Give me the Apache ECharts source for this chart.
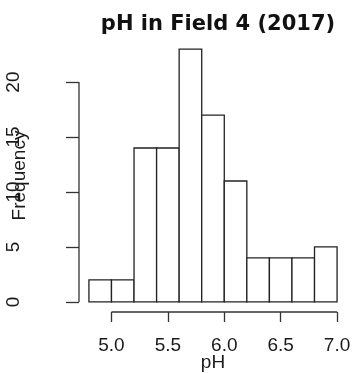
<!DOCTYPE html>
<html>
<head>
<meta charset="utf-8">
<script src="https://cdn.jsdelivr.net/npm/echarts@6/dist/echarts.min.js"></script>
<style>
html,body{margin:0;padding:0;background:#fff;}
#c{width:353px;height:373px;}
</style>
</head>
<body>
<div id="c"></div>
<script>
// Histogram data
var breaks = [4.8, 5.0, 5.2, 5.4, 5.6, 5.8, 6.0, 6.2, 6.4, 6.6, 6.8, 7.0];
var counts = [2, 2, 14, 14, 23, 17, 11, 4, 4, 4, 5];
var xTicks = [5.0, 5.5, 6.0, 6.5, 7.0];
var yTicks = [0, 5, 10, 15, 20];
var titleText = 'pH in Field 4 (2017)';
var xName = 'pH';
var yName = 'Frequency';

// R-style 4% axis expansion
var xLo = breaks[0], xHi = breaks[breaks.length - 1];
var yLo = 0, yHi = Math.max.apply(null, counts);
var xPad = (xHi - xLo) * 0.04, yPad = (yHi - yLo) * 0.04;

var data = counts.map(function (c, i) { return [breaks[i], breaks[i + 1], c]; });

var chart = echarts.init(document.getElementById('c'), null, { renderer: 'canvas' });
var fontFam = '"Liberation Sans", Arial, sans-serif';
var txt = '#1a1a1a';
var lineCol = '#333';

chart.setOption({
  animation: false,
  backgroundColor: '#fff',
  title: {
    text: titleText,
    left: 213,
    textAlign: 'center',
    top: 9,
    textStyle: { fontFamily: '"DejaVu Sans", sans-serif', fontWeight: 'bold', fontSize: 21, color: '#111' }
  },
  grid: { left: 79, right: 6, top: 39, bottom: 61, containLabel: false, outerBoundsMode: 'none' },
  xAxis: {
    type: 'value',
    min: xLo - xPad,
    max: xHi + xPad,
    splitLine: { show: false },
    axisLine: { show: false, onZero: false },
    axisTick: { show: true, customValues: xTicks, length: 10, lineStyle: { color: lineCol, width: 1.3 } },
    axisLabel: {
      customValues: xTicks, margin: 24, fontSize: 19, fontFamily: fontFam, color: txt,
      formatter: function (v) { return v.toFixed(1); }
    },
    name: xName,
    nameLocation: 'middle',
    nameGap: 41,
    nameMoveOverlap: false,
    nameTextStyle: { fontSize: 19, fontFamily: fontFam, color: txt }
  },
  yAxis: {
    type: 'value',
    min: yLo - yPad,
    max: yHi + yPad,
    splitLine: { show: false },
    axisLine: { show: false, onZero: false },
    axisTick: { show: true, customValues: yTicks, length: 13, lineStyle: { color: lineCol, width: 1.3 } },
    axisLabel: {
      customValues: yTicks, rotate: 90, margin: 56, fontSize: 19, fontFamily: fontFam, color: txt,
      formatter: function (v) { return String(v); }
    },
    name: yName,
    nameLocation: 'middle',
    nameGap: 50,
    nameMoveOverlap: false,
    nameTextStyle: { fontSize: 19, fontFamily: fontFam, color: txt }
  },
  series: [{
    type: 'custom',
    data: data,
    encode: { x: [0, 1], y: 2 },
    renderItem: function (params, api) {
      var p0 = api.coord([api.value(0), 0]);
      var p1 = api.coord([api.value(1), api.value(2)]);
      return {
        type: 'rect',
        shape: { x: p0[0], y: p1[1], width: p1[0] - p0[0], height: p0[1] - p1[1] },
        style: { fill: '#fff', stroke: '#222', lineWidth: 1.3 }
      };
    }
  }]
});

// Axis lines spanning only the first..last tick (R style)
var xa = chart.convertToPixel({ seriesIndex: 0 }, [xTicks[0], yLo - yPad]);
var xb = chart.convertToPixel({ seriesIndex: 0 }, [xTicks[xTicks.length - 1], yLo - yPad]);
var ya = chart.convertToPixel({ seriesIndex: 0 }, [xLo - xPad, yTicks[0]]);
var yb = chart.convertToPixel({ seriesIndex: 0 }, [xLo - xPad, yTicks[yTicks.length - 1]]);
chart.setOption({
  graphic: [
    { type: 'line', shape: { x1: xa[0], y1: xa[1], x2: xb[0], y2: xb[1] }, style: { stroke: lineCol, lineWidth: 1.3 } },
    { type: 'line', shape: { x1: ya[0], y1: ya[1], x2: yb[0], y2: yb[1] }, style: { stroke: lineCol, lineWidth: 1.3 } }
  ]
});
</script>
</body>
</html>
